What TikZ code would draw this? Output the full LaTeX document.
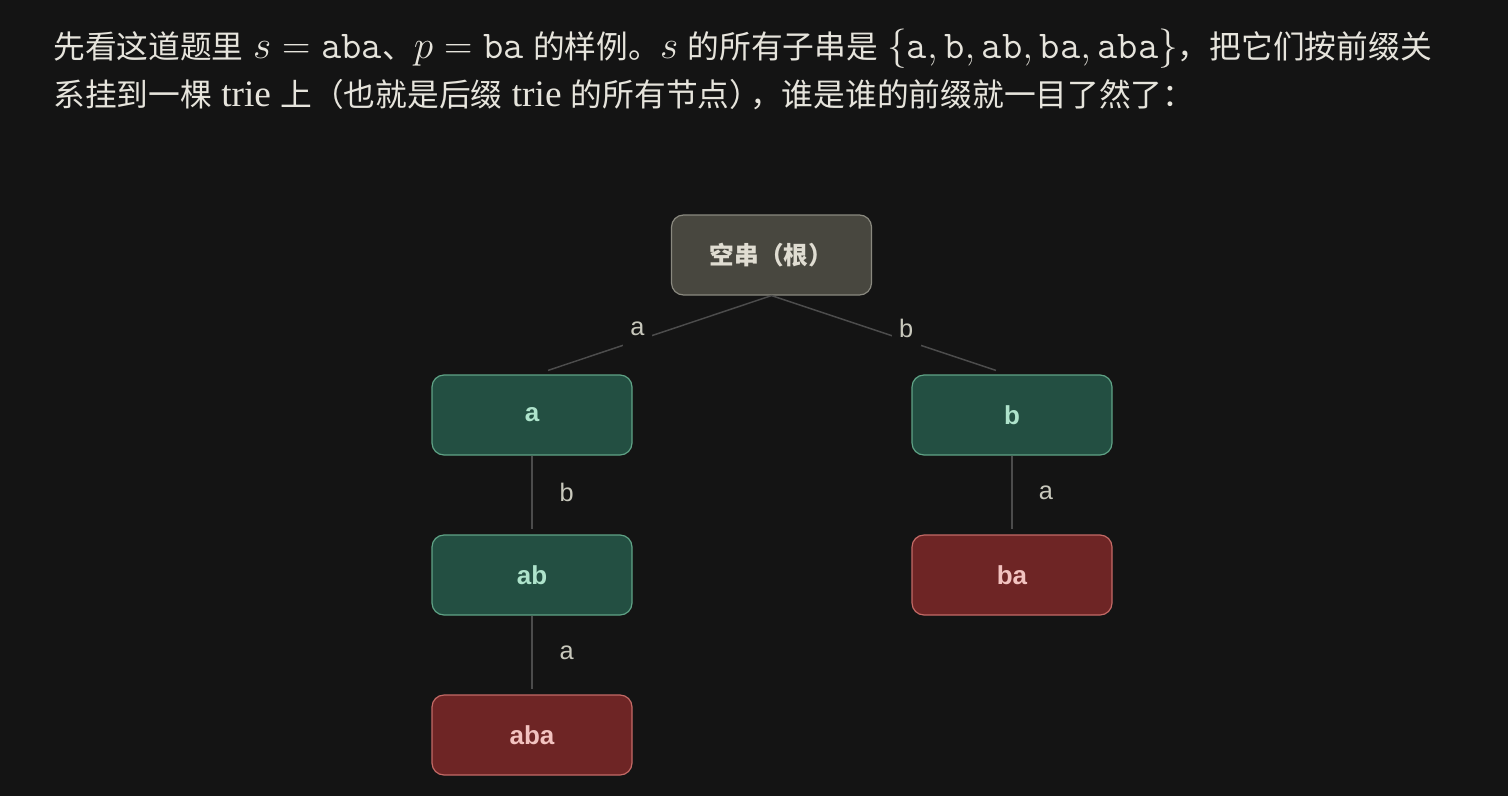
\RequirePackage{fix-cm}
\documentclass[tikz,border=0pt]{standalone}
\usepackage{fontspec}
\setmainfont{Liberation Serif}
\newfontfamily\cjk{Noto Sans CJK SC}
\newfontfamily\lsans{Liberation Sans}
\definecolor{bg}{HTML}{141414}
\definecolor{txt}{HTML}{E6E4DC}
\definecolor{edgec}{HTML}{4C4C4C}
\definecolor{elab}{HTML}{C8C8BC}
\definecolor{rootfill}{HTML}{48473F}
\definecolor{rootdraw}{HTML}{8A897F}
\definecolor{roottext}{HTML}{E0DDD2}
\definecolor{gfill}{HTML}{234F42}
\definecolor{gdraw}{HTML}{5FA386}
\definecolor{gtext}{HTML}{AEE3CB}
\definecolor{rfill}{HTML}{6E2525}
\definecolor{rdraw}{HTML}{C46A66}
\definecolor{rtext}{HTML}{F2C3C0}
\newcommand{\mth}[1]{{\fontsize{29.5}{34}\selectfont$#1$}}
\newcommand{\tw}[1]{{\rmfamily\fontsize{28}{32}\selectfont#1}}
\newcommand{\sps}{\tw{\ }}
\begin{document}
\begin{tikzpicture}[x=0.75pt,y=-0.75pt,
  box/.style={rectangle, rounded corners=9pt, minimum width=150pt, minimum height=60pt,
    line width=0.9pt, inner sep=0pt, font=\lsans\bfseries\fontsize{19.5}{23}\selectfont},
  rootbox/.style={box, fill=rootfill, draw=rootdraw, text=roottext, font=\cjk\bfseries\fontsize{18.5}{22}\selectfont},
  greenbox/.style={box, fill=gfill, draw=gdraw, text=gtext},
  redbox/.style={box, fill=rfill, draw=rdraw, text=rtext},
  conn/.style={draw=edgec, line width=1.1pt},
  dlabel/.style={fill=bg, text=elab, inner sep=0pt, minimum width=22pt, minimum height=26pt,
    font=\lsans\fontsize{19}{22}\selectfont},
  vlabel/.style={text=elab, inner sep=0pt, font=\lsans\fontsize{19}{22}\selectfont},
  para/.style={anchor=base west, inner sep=0pt, text=txt, font=\cjk\fontsize{23.8}{28}\selectfont}
]
\fill[bg] (0,0) rectangle (1508,796);
\useasboundingbox (0,0) rectangle (1508,796);

\node[para] (l1) at (53,58) {先看这道题里\sps{}\mth{s = \texttt{aba}}、\mth{p = \texttt{ba}}\sps{}的样例。\mth{s}\sps{}的所有子串是\sps{}\mth{\bigl\{\texttt{a}, \texttt{b}, \texttt{ab}, \texttt{ba}, \texttt{aba}\bigr\}}，把它们按前缀关};
\node[para] (l2) at (53,106) {系挂到一棵\tw{ trie }上（也就是后缀\tw{ trie }的所有节点）\kern-0.35em，谁是谁的前缀就一目了然了：};

\node[rootbox] (root) at (771.5,255) {空串（根）};
\node[greenbox] (a) at (532,415) {a};
\node[greenbox] (b) at (1012,415) {b};
\node[greenbox] (ab) at (532,575) {ab};
\node[redbox] (ba) at (1012,575) {ba};
\node[redbox] (aba) at (532,735) {aba};

\draw[conn] (root.south) -- node[dlabel, pos=0.6, yshift=9pt] {a} ([shift={(12pt,3pt)}]a.north);
\draw[conn] (root.south) -- node[dlabel, pos=0.6, yshift=9pt] {b} ([shift={(-12pt,3pt)}]b.north);
\draw[conn] (a.south) -- node[vlabel, xshift=26pt] {b} ([yshift=3.75pt]ab.north);
\draw[conn] (b.south) -- node[vlabel, xshift=25.5pt] {a} ([yshift=3.75pt]ba.north);
\draw[conn] (ab.south) -- node[vlabel, xshift=26pt] {a} ([yshift=3.75pt]aba.north);
\end{tikzpicture}
\end{document}
